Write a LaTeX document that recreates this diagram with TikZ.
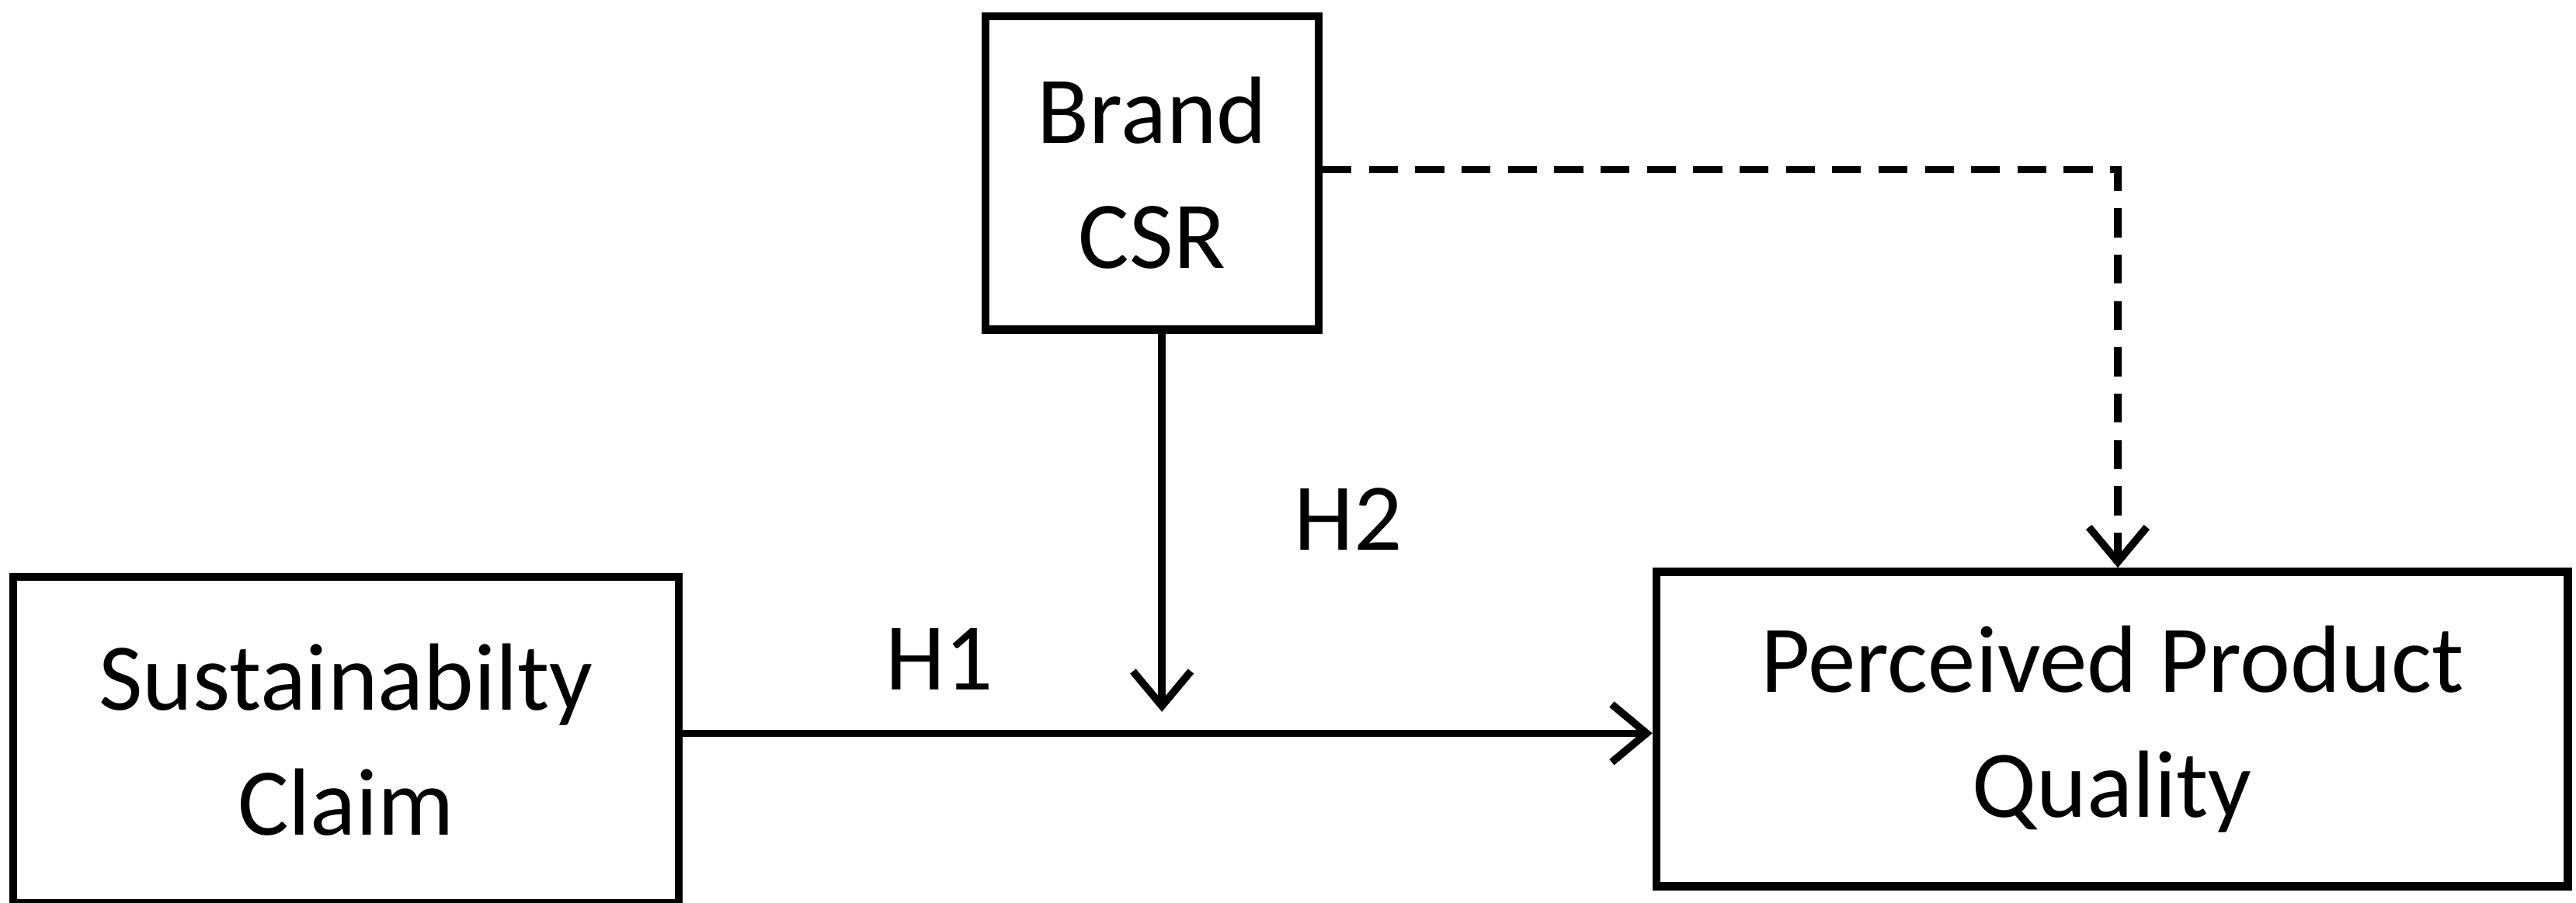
\documentclass[tikz,border=0pt]{standalone}
\usepackage{fontspec}
\setmainfont{Carlito}
\usetikzlibrary{arrows.meta}
\begin{document}
\begin{tikzpicture}[x=0.02cm,y=-0.02cm,
  box/.style={draw,line width=2.8pt,inner sep=0pt,align=center,font=\fontsize{33}{43}\selectfont},
  arr/.style={line width=2.6pt,-{Straight Barb[length=12pt,width=20pt,line width=2.6pt]}},
  lab/.style={font=\fontsize{33}{38}\selectfont}]
\useasboundingbox (0,0) rectangle (1563,548);
\node[box,minimum width=4.04cm,minimum height=3.8cm] (csr) at (699,105) {Brand\\CSR};
\node[box,minimum width=8.08cm,minimum height=3.96cm] (sc) at (210,449) {Sustainabilty\\Claim};
\node[box,minimum width=11.06cm,minimum height=3.82cm] (ppq) at (1281.5,442.5) {Perceived Product\\Quality};
\draw[arr] (sc.east|-0,445) -- (ppq.west|-0,445);
\coordinate (m) at (705,432);
\draw[arr] (csr.south-|m) -- (m);
\coordinate (c) at (1285,103);
\draw[arr,dashed,dash pattern=on 10pt off 6pt] (csr.east|-c) -- (c) -- (c|-ppq.north);
\node[lab] (h1) at (570,400) {H1};
\node[lab] (h2) at (818,315) {H2};
\end{tikzpicture}
\end{document}
